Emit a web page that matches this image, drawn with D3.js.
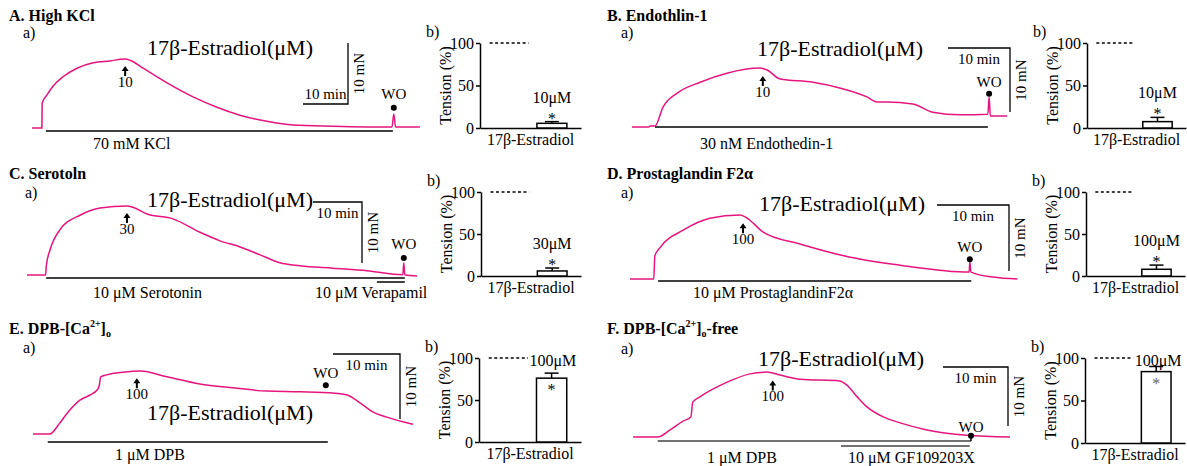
<!DOCTYPE html>
<html>
<head>
<meta charset="utf-8">
<script src="https://cdn.jsdelivr.net/npm/d3@7"></script>
<style>
body{margin:0;background:#fff}
svg{font-family:"Liberation Serif","Times New Roman",serif}
</style>
</head>
<body>
<script>
// ---- data ----
var titles = ["A. High KCl", "B. Endothlin-1", "C. Serotoln", "D. Prostaglandin F2α",
  "E. DPB-[Ca^{2+}]_{o}", "F. DPB-[Ca^{2+}]_{o}-free"]

// tension traces: [time (min), tension (mN)]
var traceA = [[0,0],[2.2,0],[2.25,4.1],[3.3,5.4],[4.7,6.9],[6.9,8.4],[10,9.8],[13.6,10.7],[17.3,11],[20.7,11.3],[21.8,11.1],[24.7,9.8],[30,7.4],[35.8,5.1],[41.1,3.4],[46.2,2.1],[52.2,1.1],[58,0.5],[66.9,0.3],[80,0.15],[80.4,2.3],[80.8,0.15],[86.2,0.15]]
var traceB = [[0,0],[2.7,0],[2.9,0.15],[3.7,0.15],[5,3.1],[7.3,5.3],[11,7],[15.3,8.4],[20.6,9.2],[21.8,8.9],[23.9,7.5],[29.2,7],[33.5,6.1],[37.9,4.7],[39.5,3.9],[41.1,3.9],[45.3,3.6],[48.5,2.3],[52.9,1.9],[57.4,2],[57.6,4.7],[57.8,1.7],[60.5,1.7]]
var traceC = [[0,0],[3.8,0],[3.95,1.6],[4.7,4.1],[6.7,7.4],[10.8,9.8],[14.9,11],[20.4,11.3],[21.6,11.1],[24.5,10],[29.8,9.2],[35.3,7],[39.4,5.6],[43.5,4.6],[47.6,3.3],[51.6,2],[55.7,1.5],[62.4,1.1],[69.4,0.7],[76.7,0.05],[76.9,2],[77.1,0.05],[79.6,-0.15]]
var traceD = [[0,0],[3.3,0],[3.45,3.5],[4.2,4.8],[7.4,7.4],[11.1,9.2],[15.3,9.7],[16.3,9.2],[18.5,7.1],[23.6,5.3],[30.6,3.3],[37.5,2.1],[47.1,1.05],[47.2,2.6],[47.35,1.05],[50.4,0.3],[53.8,0]]
var traceE = [[0,0],[2.5,0],[4,1.7],[5.1,3.2],[7,5.2],[8.5,6],[9.6,6.8],[9.9,7.5],[10.1,8.8],[11,9.1],[13.4,9.5],[16,9.7],[20,8.8],[24.9,7.7],[29.9,7.1],[34.9,6.6],[39.9,6.5],[44.8,6.3],[46.9,6],[48.8,4.8],[50.7,3.4],[52.8,2.6],[56.7,1.5]]
var traceF = [[0,0],[3.8,0],[5.7,1.2],[7.7,2.7],[8.9,3.4],[9.2,5.9],[10.3,6.8],[14.5,9.3],[18,10.7],[20.6,11],[22.6,10.5],[25.7,9.8],[31.8,9.5],[32.9,8.8],[34.5,6.8],[36,5.1],[38.5,3.4],[41.1,2.4],[45.2,1.2],[51.4,0.3],[58,0]]
var traces = [traceA, traceB, traceC, traceD, traceE, traceF]

// estradiol addition (min) and dose label
var arrowTimes = [20.7, 21.1, 20.4, 15.7, 15.5, 21.5]
var arrowLabels = ["10", "10", "30", "100", "100", "100"]
// wash-out marks [min, mN]
var woPoints = [[80.4,3.3],[57.6,5.2],[76.9,2.8],[47.2,3.0],[43.7,7.5],[52,0.2]]

// drug application bars [from min, to min, label]
var drugs = [
  [[3.1, 80.2, "70 mM KCl"]],
  [[3.7, 57.4, "30 nM Endothedin-1"]],
  [[3.9, 77.1, "10 μM Serotonin"], [71.4, 77.1, "10 μM Verapamil"]],
  [[3.9, 47.4, "10 μM ProstaglandinF2α"]],
  [[2.2, 44.0, "1 μM DPB"]],
  [[3.8, 52.0, "1 μM DPB"], [32.0, 51.8, "10 μM GF109203X"]]
]

// b) bar charts
var barCategories = ["Control", "17β-Estradiol"]
var controlValue = 100
var barValues = [5.5, 7.5, 6, 8, 76, 84]
var barErrors = [2, 5, 3.5, 5, 6, 6]
var concLabels = ["10μM", "10μM", "30μM", "100μM", "100μM", "100μM"]
var yTicks = [0, 50, 100]

// ---- layout (pixels) ----
var layout = [
  {title:[9,21], a:[23,38], est:[147,55], x0:32, base:128, hLen:45, vLen:61, sb:[348,104,'bottom'], drugY:[131,131], drugLab:[[93,149]], woDy:-9},
  {title:[607,21], a:[621,38], est:[757,56], x0:632, base:127, hLen:62, vLen:64, sb:[1010,48,'top'], drugY:[127], drugLab:[[700,149]], woDy:-7},
  {title:[9,179], a:[25,198], est:[147,207], x0:27, base:275, hLen:49, vLen:61, sb:[362,202,'top'], drugY:[278,282], drugLab:[[93,298],[315,298]], woDy:-9},
  {title:[607,179], a:[621,198], est:[759,211], x0:630, base:279, hLen:72, vLen:66, sb:[1009,205,'top'], drugY:[281], drugLab:[[693,298]], woDy:-7},
  {title:[9,334], a:[23,353], est:[147,420], x0:33, base:434, hLen:67, vLen:65, sb:[400,354,'top'], drugY:[442], drugLab:[[115,460]], woDy:-7},
  {title:[607,334], a:[621,354], est:[758,366], x0:633, base:437, hLen:65, vLen:59, sb:[1008,367,'top'], drugY:[441,446], drugLab:[[707,463],[848,463]], woDy:-4, woStem:true, drugColor:'#444'}
]
var barLayout = [
  {ax:480, top:43, bot:128, end:581, side:false},
  {ax:1087, top:43, bot:128, end:1186, side:false},
  {ax:481, top:192, bot:276, end:581, side:false},
  {ax:1086, top:192, bot:276, end:1185, side:false},
  {ax:479, top:358, bot:442, end:581, side:true, star:'#000'},
  {ax:1085, top:358, bot:443, end:1185, side:true, star:'#666'}
]

var pink = '#e5157d'
var svg = d3.select('body').append('svg').attr('width', 1187).attr('height', 466)

function richText(sel, str) {
  var parts = str.split(/(\^\{[^}]*\}|_\{[^}]*\})/).filter(s => s.length)
  var shift = 0
  parts.forEach(s => {
    var dy = 0, size = null, txt = s
    if (s[0] === '^') { txt = s.slice(2, -1); dy = -7; size = 10 }
    else if (s[0] === '_') { txt = s.slice(2, -1); dy = 3; size = 10 }
    var t = sel.append('tspan').attr('dy', dy - shift).text(txt)
    if (size) t.attr('font-size', size)
    shift = dy
  })
}

function valueAt(tr, t) {
  for (var k = 1; k < tr.length; k++) {
    if (tr[k][0] >= t) {
      var a = tr[k-1], b = tr[k]
      return a[1] + (b[1]-a[1]) * (t-a[0]) / (b[0]-a[0])
    }
  }
  return tr[tr.length-1][1]
}

traces.forEach((tr, i) => {
  var L = layout[i]
  var g = svg.append('g')

  richText(g.append('text').attr('x', L.title[0]).attr('y', L.title[1])
    .attr('font-weight', 'bold').attr('font-size', 16), titles[i])
  g.append('text').attr('x', L.a[0]).attr('y', L.a[1]).attr('font-size', 16).text('a)')
  g.append('text').attr('x', L.est[0]).attr('y', L.est[1]).attr('font-size', 22).text('17β-Estradiol(μM)')

  var x = d3.scaleLinear().domain([0, 10]).range([L.x0, L.x0 + L.hLen])
  var y = d3.scaleLinear().domain([0, 10]).range([L.base, L.base - L.vLen])

  // drug bars
  drugs[i].forEach((d, k) => {
    g.append('line').attr('x1', x(d[0])).attr('x2', x(d[1]))
      .attr('y1', L.drugY[k]).attr('y2', L.drugY[k])
      .attr('stroke', L.drugColor || '#000').attr('stroke-width', 1.5)
    g.append('text').attr('x', L.drugLab[k][0]).attr('y', L.drugLab[k][1])
      .attr('font-size', 16).text(d[2])
  })

  // trace
  var line = d3.line().x(d => x(d[0])).y(d => y(d[1])).curve(d3.curveMonotoneX)
  g.append('path').attr('d', line(tr)).attr('fill', 'none')
    .attr('stroke', pink).attr('stroke-width', 1.5)

  // scale bar
  var cx = L.sb[0], cy = L.sb[1]
  var hl = x(10) - x(0), vl = y(0) - y(10)
  var sbPath = d3.path()
  if (L.sb[2] === 'bottom') {
    sbPath.moveTo(cx - hl, cy); sbPath.lineTo(cx, cy); sbPath.lineTo(cx, cy - vl)
  } else {
    sbPath.moveTo(cx - hl, cy); sbPath.lineTo(cx, cy); sbPath.lineTo(cx, cy + vl)
  }
  g.append('path').attr('d', sbPath.toString()).attr('fill', 'none').attr('stroke', '#000').attr('stroke-width', 1.3)
  var up = L.sb[2] === 'bottom'
  g.append('text').attr('x', cx - hl / 2).attr('y', up ? cy - 5 : cy + 16)
    .attr('font-size', 15).attr('text-anchor', 'middle').text('10 min')
  g.append('text').attr('transform', `translate(${cx + 16},${up ? cy - vl / 2 : cy + vl / 2}) rotate(-90)`)
    .attr('font-size', 15).attr('text-anchor', 'middle').text('10 mN')

  // estradiol arrow
  var ax = x(arrowTimes[i])
  var tip = y(valueAt(tr, arrowTimes[i])) + 7
  g.append('path').attr('fill', '#000')
    .attr('d', `M${ax},${tip}L${ax-3.5},${tip+5}H${ax-1}V${tip+10}H${ax+1}V${tip+5}H${ax+3.5}Z`)
  g.append('text').attr('x', ax).attr('y', tip + 21).attr('font-size', 15)
    .attr('text-anchor', 'middle').text(arrowLabels[i])

  // wash-out
  var wx = x(woPoints[i][0]), wy = y(woPoints[i][1])
  if (L.woStem) {
    g.append('line').attr('x1', wx).attr('x2', wx).attr('y1', wy).attr('y2', L.drugY[0])
      .attr('stroke', '#000').attr('stroke-width', 1.5)
  }
  g.append('circle').attr('cx', wx).attr('cy', wy).attr('r', 3).attr('fill', '#000')
  g.append('text').attr('x', wx).attr('y', wy + L.woDy).attr('font-size', 15)
    .attr('text-anchor', 'middle').text('WO')

  // ---- b) bar chart ----
  var B = barLayout[i]
  var yb = d3.scaleLinear().domain([0, 100]).range([B.bot, B.top])
  var xb = d3.scaleBand().domain(barCategories).range([B.ax, B.end]).paddingInner(0.3).paddingOuter(0.33)
  var bw = xb.bandwidth()

  g.append('text').attr('x', B.ax - 54).attr('y', B.top - 6).attr('font-size', 16).text('b)')

  var yAxis = g.append('g').attr('transform', `translate(${B.ax},0)`)
    .call(d3.axisLeft(yb).tickValues(yTicks).tickSize(4).tickSizeOuter(0).tickPadding(2))
  yAxis.selectAll('text').attr('font-size', 16).attr('font-family', '"Liberation Serif",serif').attr('fill', '#000')
  yAxis.selectAll('path,line').attr('stroke-width', 1.5)

  var xAxis = g.append('g').attr('transform', `translate(0,${B.bot})`)
    .call(d3.axisBottom(xb).tickValues([]).tickSizeOuter(0))
  xAxis.select('path').attr('stroke-width', 1.5)

  g.append('text').attr('transform', `translate(${B.ax - 29},${(B.top + B.bot) / 2}) rotate(-90)`)
    .attr('font-size', 16).attr('text-anchor', 'middle').text('Tension (%)')
  g.append('text').attr('x', (B.ax + B.end) / 2).attr('y', B.bot + 17)
    .attr('font-size', 16).attr('text-anchor', 'middle').text(barCategories[1])

  // control level
  g.append('line').attr('x1', xb(barCategories[0]) - 4.5).attr('x2', xb(barCategories[0]) + bw + 4.5)
    .attr('y1', yb(controlValue)).attr('y2', yb(controlValue))
    .attr('stroke', '#000').attr('stroke-width', 1.3).attr('stroke-dasharray', '3,2.5')

  var v = barValues[i], e = barErrors[i]
  var bx = xb(barCategories[1]), bc = bx + bw / 2
  g.append('line').attr('x1', bc).attr('x2', bc).attr('y1', yb(v)).attr('y2', yb(v + e))
    .attr('stroke', '#000').attr('stroke-width', 1.5)
  g.append('line').attr('x1', bc - 7).attr('x2', bc + 7).attr('y1', yb(v + e)).attr('y2', yb(v + e))
    .attr('stroke', '#000').attr('stroke-width', 1.5)
  g.append('rect').attr('x', bx).attr('y', yb(v)).attr('width', bw).attr('height', yb(0) - yb(v))
    .attr('fill', '#fff').attr('stroke', '#000').attr('stroke-width', 1.5)

  if (B.side) {
    g.append('text').attr('x', xb(barCategories[0]) + bw + 6).attr('y', yb(controlValue) + 8)
      .attr('font-size', 16).text(concLabels[i])
    g.append('text').attr('x', bc).attr('y', yb(v) + 17).attr('font-size', 16)
      .attr('text-anchor', 'middle').attr('fill', B.star).text('*')
  } else {
    g.append('text').attr('x', bc).attr('y', yb(v + e) - 19).attr('font-size', 16)
      .attr('text-anchor', 'middle').text(concLabels[i])
    g.append('text').attr('x', bc).attr('y', yb(v + e) + 2).attr('font-size', 16)
      .attr('text-anchor', 'middle').text('*')
  }
})
</script>
</body>
</html>
